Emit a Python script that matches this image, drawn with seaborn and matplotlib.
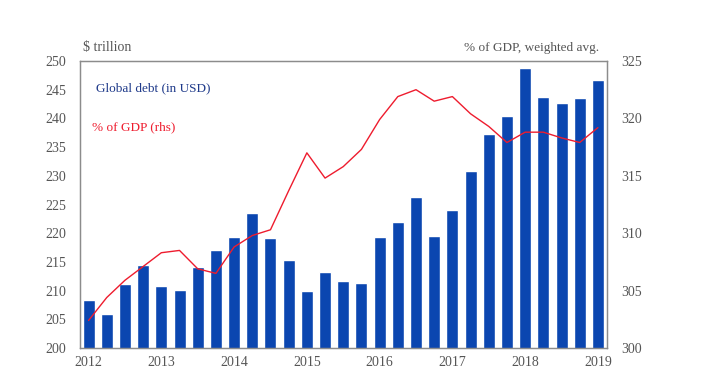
import numpy as np
import pandas as pd
import matplotlib
matplotlib.use('Agg')
import matplotlib.pyplot as plt
import seaborn as sns

# Dados trimestrais 2012Q1 - 2019Q1
quarters = [f'{y}Q{q}' for y in range(2012, 2020) for q in range(1, 5)][:29]
debt_usd = [208.3, 205.9, 211.2, 214.4, 210.8, 210.1, 214.2, 217.0,
            219.4, 223.6, 219.1, 215.4, 209.9, 213.3, 211.6, 211.4,
            219.4, 222.0, 226.3, 219.5, 224.0, 230.9, 237.2, 240.4,
            248.7, 243.7, 242.7, 243.5, 246.7]
debt_gdp = [302.4, 304.4, 305.9, 307.1, 308.3, 308.5, 306.9, 306.5,
            308.8, 309.8, 310.3, 313.7, 317.0, 314.8, 315.8, 317.3,
            319.9, 321.9, 322.5, 321.5, 321.9, 320.4, 319.3, 317.9,
            318.8, 318.8, 318.3, 317.9, 319.2]
year_labels = ['2012', '2013', '2014', '2015', '2016', '2017', '2018', '2019']

df = pd.DataFrame({'quarter': quarters, 'debt': debt_usd, 'gdp': debt_gdp})
df['pos'] = np.arange(len(df))

sns.set_style('white')
plt.rcParams['font.family'] = ['Liberation Serif', 'DejaVu Serif']

bar_color = '#0b46b0'
line_color = '#ee1c2e'
text_color = '#555555'
spine_color = '#8c8c8c'

fig = plt.figure(figsize=(7.17, 3.86), dpi=100)
ax = fig.add_axes([0.1116, 0.0984, 0.7350, 0.7436])

# Barras: divida global
sns.barplot(data=df, x='pos', y='debt', color=bar_color, width=0.66,
            saturation=1, ax=ax)
ax.set_ylim(200, 250)
ax.set_yticks(np.arange(200, 251, 5))
ax.set_xlim(-0.47, 28.5)
ax.set_xticks(np.arange(0, 29, 4))
ax.set_xticklabels(year_labels)
ax.set_xlabel('')
ax.set_ylabel('')

# Linha: % do PIB (eixo direito)
ax2 = ax.twinx()
sns.lineplot(data=df, x='pos', y='gdp', color=line_color, linewidth=1,
             ax=ax2)
ax2.set_ylim(300, 325)
ax2.set_yticks(np.arange(300, 326, 5))
ax2.set_xlim(-0.47, 28.5)
ax2.set_ylabel('')
ax2.set_xlabel('')

for a in (ax, ax2):
    a.tick_params(axis='both', length=0, labelsize=10, colors=text_color)
    for s in a.spines.values():
        s.set_color(spine_color)
        s.set_linewidth(0.9)
ax.tick_params(axis='y', pad=10)
ax2.tick_params(axis='y', pad=10)
ax.tick_params(axis='x', pad=6)

fig.text(0.116, 0.868, '$ trillion', fontsize=10, color=text_color)
fig.text(0.835, 0.868, '% of GDP, weighted avg.', fontsize=9.5,
         color=text_color, ha='right')
ax.text(0.03, 0.905, 'Global debt (in USD)', transform=ax.transAxes,
        fontsize=9.5, color='#1f3a8a', va='center')
ax.text(0.023, 0.77, '% of GDP (rhs)', transform=ax.transAxes,
        fontsize=9.5, color=line_color, va='center')

fig.savefig('out.png', dpi=100)
